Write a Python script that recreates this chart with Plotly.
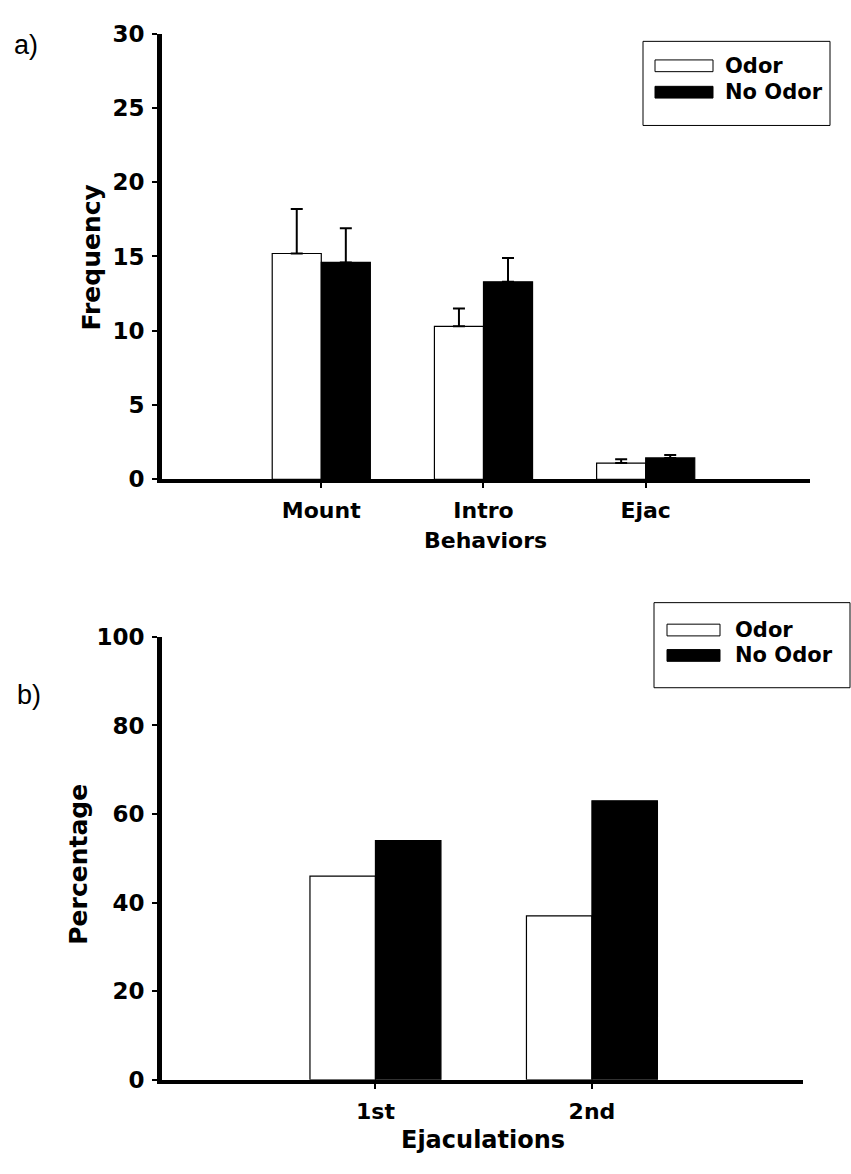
import plotly.graph_objects as go

W, H = 851, 1174

# Panel a: frequency of each behavior (mean with upward SEM)
behaviors = ["Mount", "Intro", "Ejac"]
freq_odor = [15.2, 10.3, 1.1]
freq_odor_err = [3.0, 1.2, 0.25]
freq_no_odor = [14.6, 13.3, 1.45]
freq_no_odor_err = [2.3, 1.6, 0.2]

# Panel b: percentage of animals per ejaculation
ejaculations = ["1st", "2nd"]
pct_odor = [46, 37]
pct_no_odor = [54, 63]

series_names = ["Odor", "No Odor"]
fills = ["white", "black"]

y_ticks_a = [0, 5, 10, 15, 20, 25, 30]
y_ticks_b = [0, 20, 40, 60, 80, 100]


def fx(px):
    return px / W


def fy(px):
    return 1 - px / H


BOLD = dict(family="DejaVu Sans", color="black", weight="bold")


def err(vals):
    return dict(type="data", array=vals, arrayminus=[0] * len(vals),
                symmetric=False, color="black", thickness=2, width=6)


fig = go.Figure()

for name, fill, vals, errs in zip(series_names, fills,
                                  [freq_odor, freq_no_odor],
                                  [freq_odor_err, freq_no_odor_err]):
    fig.add_trace(go.Bar(
        x=behaviors, y=vals, name=name, showlegend=False,
        marker=dict(color=fill, line=dict(color="black", width=1.2)),
        error_y=err(errs), xaxis="x", yaxis="y",
    ))

for name, fill, vals in zip(series_names, fills, [pct_odor, pct_no_odor]):
    fig.add_trace(go.Bar(
        x=ejaculations, y=vals, name=name, showlegend=False,
        marker=dict(color=fill, line=dict(color="black", width=1.2)),
        xaxis="x2", yaxis="y2",
    ))

axis_common = dict(
    showline=True, linecolor="black", ticks="outside", ticklen=5,
    tickwidth=2, tickcolor="black", showgrid=False, zeroline=False,
    fixedrange=True,
)

fig.update_layout(
    width=W, height=H,
    margin=dict(l=0, r=0, t=0, b=0),
    paper_bgcolor="white", plot_bgcolor="white",
    barmode="group", bargap=0.395, bargroupgap=0,
    xaxis=dict(axis_common, domain=[fx(162), fx(810)], anchor="y",
               type="category", range=[-0.982, 3.013], linewidth=4,
               tickfont=dict(BOLD, size=22), ticklabelstandoff=3),
    yaxis=dict(axis_common, domain=[fy(477), fy(21)], anchor="x",
               range=[0, 30], tickvals=y_ticks_a, linewidth=5,
               tickfont=dict(BOLD, size=23), ticklabelstandoff=3),
    xaxis2=dict(axis_common, domain=[fx(162), fx(803)], anchor="y2",
                type="category", range=[-0.986, 1.975], linewidth=4,
                tickfont=dict(BOLD, size=22), ticklabelstandoff=4),
    yaxis2=dict(axis_common, domain=[fy(1091), fy(638)], anchor="x2",
                range=[0, 100], tickvals=y_ticks_b, linewidth=5,
                tickfont=dict(BOLD, size=23), ticklabelstandoff=3),
)

annotations = [
    dict(text="a)", x=fx(12), y=fy(33), xanchor="left", yanchor="middle",
         font=dict(family="Liberation Sans", size=27, color="black")),
    dict(text="b)", x=fx(15), y=fy(697), xanchor="left", yanchor="middle",
         font=dict(family="Liberation Sans", size=27, color="black")),
    dict(text="Frequency", x=fx(91), y=fy(250), textangle=-90,
         xanchor="center", yanchor="middle", font=dict(BOLD, size=25)),
    dict(text="Behaviors", x=fx(486), y=fy(539), xanchor="center",
         yanchor="middle", font=dict(BOLD, size=22)),
    dict(text="Percentage", x=fx(79), y=fy(871), textangle=-90,
         xanchor="center", yanchor="middle", font=dict(BOLD, size=25)),
    dict(text="Ejaculations", x=fx(483), y=fy(1153), xanchor="center",
         yanchor="middle", font=dict(BOLD, size=24)),
]

shapes = []


def add_key(box, sw_x, text_x, rows):
    x0, x1, y0, y1 = box
    shapes.append(dict(type="rect", xref="paper", yref="paper",
                       x0=fx(x0), x1=fx(x1), y0=fy(y1), y1=fy(y0),
                       line=dict(color="black", width=1), fillcolor="white",
                       layer="above"))
    for name, fill, cy in rows:
        shapes.append(dict(type="rect", xref="paper", yref="paper",
                           x0=fx(sw_x[0]), x1=fx(sw_x[1]),
                           y0=fy(cy + 6), y1=fy(cy - 6),
                           line=dict(color="black", width=1),
                           fillcolor=fill, layer="above"))
        annotations.append(dict(text=name, x=fx(text_x), y=fy(cy),
                                xanchor="left", yanchor="middle",
                                font=dict(BOLD, size=21)))


add_key((643, 830, 29, 115), (655, 713), 723,
        [(series_names[0], fills[0], 54), (series_names[1], fills[1], 81)])
add_key((654, 850, 603, 690), (667, 720), 733,
        [(series_names[0], fills[0], 631), (series_names[1], fills[1], 657)])

for a in annotations:
    a.update(xref="paper", yref="paper", showarrow=False)

fig.update_layout(annotations=annotations, shapes=shapes)

fig.write_html("out.html")
